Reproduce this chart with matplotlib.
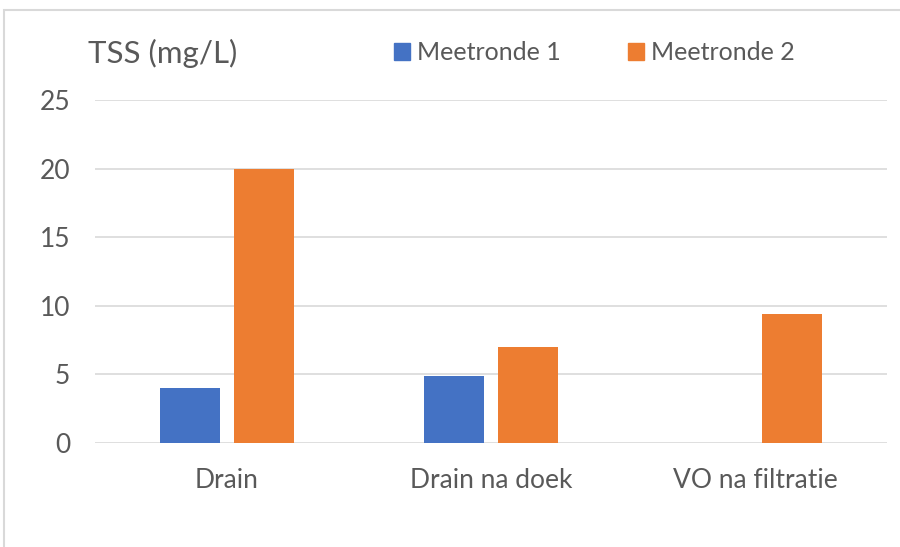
import numpy as np
import matplotlib
matplotlib.use('Agg')
import matplotlib.pyplot as plt
from matplotlib.patches import Patch, Rectangle

categories = ['Drain', 'Drain na doek', 'VO na filtratie']
meetronde_1 = [4.0, 4.9, np.nan]   # geen waarde voor VO na filtratie
meetronde_2 = [20.0, 7.0, 9.4]
series_names = ['Meetronde 1', 'Meetronde 2']
y_ticks = [0, 5, 10, 15, 20, 25]

blue = '#4472C4'; orange = '#ED7D31'; tekst = '#595959'; grid = '#D9D9D9'

plt.rcParams['font.family'] = ['Lato', 'DejaVu Sans']

fig = plt.figure(figsize=(9, 5.47), dpi=100)
ax = fig.add_axes([95/900, 1-443/547, 792/900, 343/547])

x = np.arange(len(categories))
w = 0.225
ax.bar(x - 0.14, meetronde_1, w, color=blue, zorder=3)
ax.bar(x + 0.14, meetronde_2, w, color=orange, zorder=3)

ax.set_xlim(-0.5, 2.5)
ax.set_ylim(0, 25)
ax.set_yticks(y_ticks)
ax.set_xticks(x)
ax.set_xticklabels(categories)
ax.tick_params(axis='both', length=0, colors=tekst, labelsize=19)
ax.tick_params(axis='x', pad=18)
ax.tick_params(axis='y', pad=18)
ax.yaxis.grid(True, color=grid, linewidth=1.2, zorder=0)
for s in ax.spines.values():
    s.set_visible(False)

fig.text(88/900, 1-63/547, 'TSS (mg/L)', fontsize=22.5, color=tekst, ha='left', va='baseline')

handles = [Patch(color=blue, label=series_names[0]), Patch(color=orange, label=series_names[1])]
fig.legend(handles=handles, ncol=2, frameon=False, loc='center left',
           bbox_to_anchor=(394/900, 1-53/547), fontsize=18, labelcolor=tekst,
           handlelength=0.64, handleheight=0.64, handletextpad=0.28,
           columnspacing=2.7, borderpad=0, borderaxespad=0)

# lichte rand rond het diagram
fig.patches.append(Rectangle((4/900, -0.1), 1.1, 1.1 - 10/547, transform=fig.transFigure,
                             fill=False, edgecolor=grid, linewidth=1.5))

fig.savefig('out.png', dpi=100)
